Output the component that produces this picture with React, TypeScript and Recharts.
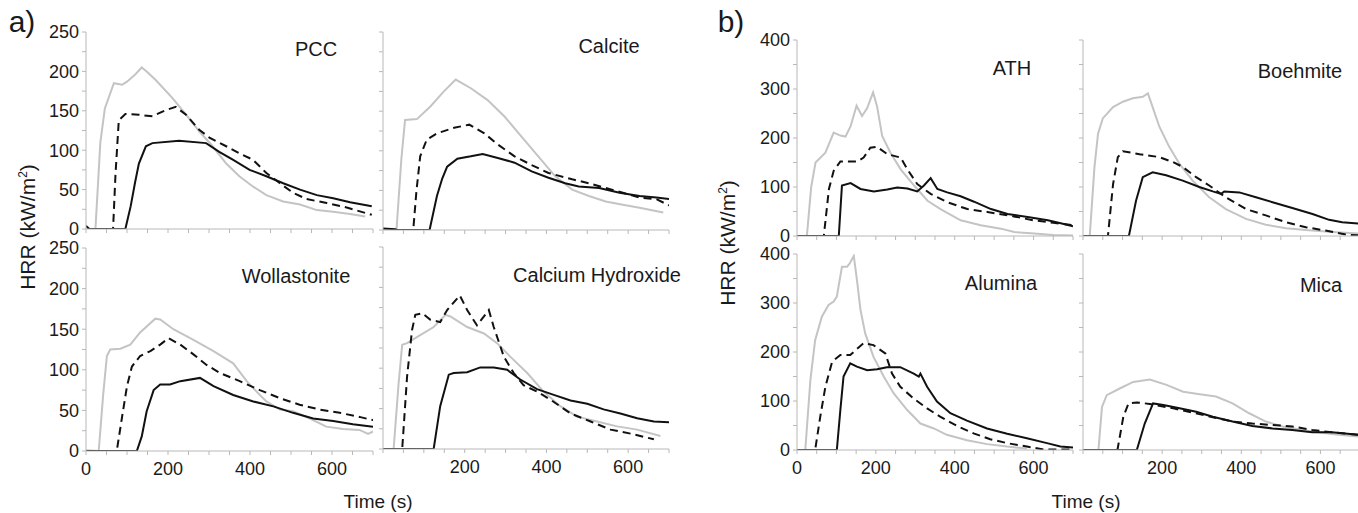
import { LineChart, Line, XAxis, YAxis } from "recharts";

// time axis (s)
const timeTicks = [0, 50, 100, 150, 200, 250, 300, 350, 400, 450, 500, 550, 600, 650, 700];
const timeLabelsLeft = [0, 200, 400, 600];
const timeLabelsRight = [200, 400, 600];

// HRR axes (kW/m2)
const hrrTicksA = [0, 25, 50, 75, 100, 125, 150, 175, 200, 225, 250];
const hrrLabelsA = [0, 50, 100, 150, 200, 250];
const hrrTicksB = [0, 50, 100, 150, 200, 250, 300, 350, 400];
const hrrLabelsB = [0, 100, 200, 300, 400];

// [time, HRR]
const pccGrey = [[0, 4], [8, 0], [23, 0], [35, 110], [46, 153], [68, 185], [88, 183], [100, 187], [118, 195], [136, 205], [150, 199], [170, 189], [211, 166], [244, 145], [276, 124], [309, 105], [342, 83], [374, 67], [407, 54], [440, 43], [481, 35], [522, 31], [563, 24], [603, 22], [644, 19], [681, 16]];
const pccDash = [[20, 0], [66, 0], [72, 70], [80, 138], [96, 146], [129, 145], [162, 143], [195, 151], [219, 155], [244, 145], [276, 126], [301, 116], [342, 105], [374, 96], [407, 88], [440, 71], [473, 58], [505, 46], [538, 38], [587, 33], [638, 27], [697, 18]];
const pccSolid = [[0, 4], [8, 0], [96, 0], [109, 29], [120, 60], [129, 83], [146, 105], [162, 109], [227, 112], [293, 109], [325, 98], [358, 88], [399, 75], [440, 67], [481, 58], [522, 50], [563, 43], [603, 39], [644, 34], [697, 29]];

const calciteGrey = [[0, 0], [33, 0], [45, 90], [54, 139], [83, 140], [116, 156], [149, 175], [178, 190], [215, 179], [256, 164], [298, 143], [339, 118], [380, 93], [421, 68], [463, 51], [504, 43], [545, 36], [587, 32], [628, 28], [686, 22]];
const calciteDash = [[20, 0], [74, 0], [82, 50], [91, 93], [107, 114], [132, 122], [174, 129], [211, 133], [248, 122], [281, 108], [322, 93], [364, 82], [405, 72], [463, 64], [504, 59], [545, 53], [587, 47], [628, 41], [669, 39], [700, 31]];
const calciteSolid = [[0, 2], [30, 1], [34, 0], [114, 0], [132, 43], [145, 65], [157, 80], [182, 90], [215, 93], [244, 96], [281, 91], [322, 85], [364, 74], [405, 66], [446, 59], [479, 55], [529, 53], [579, 47], [628, 43], [669, 41], [700, 39]];

const wollGrey = [[0, 1], [31, 0], [42, 70], [51, 117], [59, 125], [84, 126], [108, 131], [132, 146], [169, 163], [181, 162], [213, 150], [262, 137], [311, 123], [359, 108], [392, 86], [424, 69], [440, 61], [473, 51], [505, 49], [546, 40], [586, 30], [627, 27], [667, 26], [688, 21], [700, 24]];
const wollDash = [[20, 0], [75, 0], [88, 42], [100, 80], [112, 104], [132, 117], [157, 123], [181, 131], [201, 139], [230, 131], [262, 119], [294, 106], [327, 96], [375, 86], [424, 75], [473, 65], [521, 57], [570, 51], [619, 47], [667, 42], [700, 38]];
const wollSolid = [[0, 0], [124, 0], [136, 18], [148, 49], [165, 75], [181, 82], [205, 82], [230, 86], [278, 90], [311, 80], [359, 69], [408, 61], [457, 55], [505, 47], [554, 40], [603, 37], [651, 33], [700, 30]];

const caohGrey = [[0, 0], [26, 0], [38, 80], [47, 129], [59, 131], [91, 141], [124, 151], [153, 166], [165, 164], [206, 151], [247, 143], [279, 131], [312, 114], [353, 94], [393, 71], [434, 53], [475, 40], [524, 34], [573, 28], [622, 24], [679, 16]];
const caohDash = [[20, 0], [47, 0], [59, 90], [71, 147], [79, 166], [96, 168], [116, 160], [140, 157], [157, 172], [188, 190], [206, 172], [230, 153], [259, 172], [271, 151], [296, 114], [320, 94], [344, 79], [377, 71], [410, 61], [459, 44], [508, 34], [557, 24], [606, 19], [663, 12]];
const caohSolid = [[0, 0], [124, 0], [140, 53], [161, 92], [173, 94], [206, 95], [238, 101], [271, 101], [304, 98], [336, 86], [377, 74], [418, 67], [459, 60], [500, 56], [540, 49], [581, 44], [622, 38], [663, 34], [700, 33]];

const athGrey = [[0, 0], [25, 0], [36, 100], [47, 150], [72, 170], [93, 211], [110, 205], [123, 203], [136, 224], [151, 266], [165, 245], [178, 261], [193, 293], [203, 265], [216, 204], [237, 170], [263, 136], [297, 103], [331, 72], [364, 55], [415, 32], [466, 22], [517, 15], [551, 8], [602, 5], [650, 2], [700, 1]];
const athDash = [[20, 0], [68, 0], [81, 96], [93, 133], [110, 152], [153, 152], [169, 160], [186, 180], [203, 182], [229, 167], [263, 160], [280, 136], [305, 106], [339, 86], [381, 69], [432, 55], [483, 49], [550, 40], [600, 32], [650, 27], [700, 22]];
const athSolid = [[0, 0], [106, 0], [114, 103], [136, 108], [161, 96], [195, 91], [229, 95], [254, 99], [280, 97], [305, 91], [322, 103], [339, 118], [356, 96], [381, 89], [415, 81], [449, 70], [492, 55], [534, 45], [585, 39], [636, 32], [669, 26], [700, 20]];

const boehGrey = [[0, 0], [17, 0], [29, 141], [38, 209], [50, 240], [76, 263], [101, 274], [126, 281], [151, 284], [164, 291], [176, 263], [193, 223], [218, 182], [244, 147], [277, 113], [319, 79], [361, 55], [412, 35], [462, 23], [513, 16], [563, 12], [630, 8], [700, 5]];
const boehDash = [[20, 0], [63, 0], [76, 106], [88, 161], [101, 173], [143, 167], [193, 161], [227, 151], [252, 141], [286, 120], [319, 103], [361, 79], [412, 55], [462, 42], [513, 28], [563, 18], [613, 11], [664, 3], [700, 1]];
const boehSolid = [[0, 0], [116, 0], [134, 72], [151, 120], [176, 130], [210, 124], [252, 113], [294, 100], [328, 91], [349, 86], [357, 91], [395, 89], [437, 79], [479, 69], [529, 57], [580, 45], [622, 33], [655, 28], [700, 25]];

const aluGrey = [[0, 0], [21, 0], [34, 143], [46, 224], [63, 272], [80, 296], [93, 303], [101, 313], [114, 374], [127, 374], [134, 381], [144, 396], [152, 347], [161, 286], [173, 238], [194, 190], [220, 150], [245, 116], [279, 82], [313, 54], [347, 44], [380, 31], [431, 20], [482, 12], [533, 7], [583, 3]];
const aluDash = [[20, 0], [46, 0], [59, 68], [72, 129], [89, 180], [110, 194], [135, 194], [169, 218], [194, 214], [224, 197], [241, 156], [262, 129], [296, 105], [330, 85], [363, 68], [406, 49], [448, 34], [490, 22], [533, 14], [583, 7], [626, 1], [700, 1]];
const aluSolid = [[0, 0], [101, 0], [110, 82], [118, 150], [135, 177], [152, 170], [178, 163], [203, 165], [228, 169], [262, 169], [296, 156], [309, 150], [313, 156], [330, 129], [355, 99], [389, 75], [431, 60], [482, 44], [533, 33], [583, 24], [634, 14], [668, 7], [700, 5]];

const micaGrey = [[0, 0], [39, 0], [48, 88], [60, 112], [94, 126], [127, 139], [169, 144], [211, 133], [253, 119], [295, 114], [336, 109], [378, 95], [420, 75], [462, 58], [504, 48], [554, 41], [604, 35], [646, 31], [700, 27]];
const micaDash = [[20, 0], [87, 0], [102, 68], [115, 95], [136, 97], [169, 94], [228, 85], [278, 76], [328, 67], [378, 58], [428, 54], [479, 51], [529, 48], [579, 41], [629, 36], [700, 31]];
const micaSolid = [[0, 0], [136, 0], [156, 54], [177, 95], [203, 92], [244, 85], [286, 78], [328, 68], [378, 58], [428, 49], [479, 44], [529, 41], [579, 36], [629, 36], [700, 31]];

const FONT = '"Liberation Sans", Arial, sans-serif';
const AXIS = "#b8b8b8";
const TEXT = "#1a1a1a";

const toPts = (a: number[][]) => a.map(([t, v]) => ({ t, v }));

type PanelSpec = {
  title: string;
  x0: number; x1: number; y0: number; y1: number;
  tx: number; ty: number;
  yMax: number; yTicks: number[]; yLabels: number[];
  xLabels: number[];
  grey: number[][]; dash: number[][]; solid: number[][];
};

const panels: PanelSpec[] = [
  { title: "PCC", x0: 86, x1: 373, y0: 32, y1: 229, tx: 316, ty: 49, yMax: 250, yTicks: hrrTicksA, yLabels: hrrLabelsA, xLabels: [], grey: pccGrey, dash: pccDash, solid: pccSolid },
  { title: "Calcite", x0: 383, x1: 669, y0: 32, y1: 230, tx: 609, ty: 46, yMax: 250, yTicks: hrrTicksA, yLabels: [], xLabels: [], grey: calciteGrey, dash: calciteDash, solid: calciteSolid },
  { title: "Wollastonite", x0: 86, x1: 373, y0: 248, y1: 451, tx: 296, ty: 276, yMax: 250, yTicks: hrrTicksA, yLabels: hrrLabelsA, xLabels: timeLabelsLeft, grey: wollGrey, dash: wollDash, solid: wollSolid },
  { title: "Calcium Hydroxide", x0: 383, x1: 669, y0: 247, y1: 449, tx: 597, ty: 275, yMax: 250, yTicks: hrrTicksA, yLabels: [], xLabels: timeLabelsRight, grey: caohGrey, dash: caohDash, solid: caohSolid },
  { title: "ATH", x0: 797, x1: 1073, y0: 40, y1: 236, tx: 1012, ty: 68, yMax: 400, yTicks: hrrTicksB, yLabels: hrrLabelsB, xLabels: [], grey: athGrey, dash: athDash, solid: athSolid },
  { title: "Boehmite", x0: 1083, x1: 1360, y0: 40, y1: 236, tx: 1300, ty: 71, yMax: 400, yTicks: hrrTicksB, yLabels: [], xLabels: [], grey: boehGrey, dash: boehDash, solid: boehSolid },
  { title: "Alumina", x0: 797, x1: 1073, y0: 254, y1: 450, tx: 1001, ty: 283, yMax: 400, yTicks: hrrTicksB, yLabels: hrrLabelsB, xLabels: timeLabelsLeft, grey: aluGrey, dash: aluDash, solid: aluSolid },
  { title: "Mica", x0: 1083, x1: 1360, y0: 254, y1: 450, tx: 1321, ty: 285, yMax: 400, yTicks: hrrTicksB, yLabels: [], xLabels: timeLabelsRight, grey: micaGrey, dash: micaDash, solid: micaSolid },
];

function Panel({ p }: { p: PanelSpec }) {
  const padL = 60, padT = 12, padR = 12, padB = 40;
  const w = p.x1 - p.x0;
  const h = p.y1 - p.y0;
  const tick = { fill: TEXT, fontSize: 18, fontFamily: FONT };
  return (
    <div style={{ position: "absolute", left: p.x0 - padL, top: p.y0 - padT }}>
      <LineChart
        width={w + padL + padR}
        height={h + padT + padB}
        margin={{ top: padT, right: padR, bottom: 0, left: 0 }}
      >
        <XAxis
          type="number"
          dataKey="t"
          domain={[0, 700]}
          ticks={timeTicks}
          interval={0}
          height={padB}
          tickSize={4}
          tickMargin={7}
          stroke={AXIS}
          tick={tick}
          allowDataOverflow
          tickFormatter={(v: number) => (p.xLabels.includes(v) ? String(v) : "")}
        />
        <YAxis
          type="number"
          domain={[0, p.yMax]}
          ticks={p.yTicks}
          interval={0}
          width={padL}
          tickSize={4}
          tickMargin={3}
          stroke={AXIS}
          tick={tick}
          allowDataOverflow
          tickFormatter={(v: number) => (p.yLabels.includes(v) ? String(v) : "")}
        />
        <Line data={toPts(p.grey)} dataKey="v" type="linear" stroke="#c4c4c4" strokeWidth={2} dot={false} isAnimationActive={false} />
        <Line data={toPts(p.dash)} dataKey="v" type="linear" stroke="#111" strokeWidth={2} strokeDasharray="8 5" dot={false} isAnimationActive={false} />
        <Line data={toPts(p.solid)} dataKey="v" type="linear" stroke="#111" strokeWidth={2} dot={false} isAnimationActive={false} />
      </LineChart>
    </div>
  );
}

const abs = (x: number, y: number, extra: React.CSSProperties = {}): React.CSSProperties => ({
  position: "absolute",
  left: x,
  top: y,
  transform: "translate(-50%, -50%)",
  whiteSpace: "nowrap",
  color: TEXT,
  fontFamily: FONT,
  ...extra,
});

export default function App() {
  return (
    <div
      style={{
        position: "absolute",
        left: 0,
        top: 0,
        width: 1358,
        height: 513,
        overflow: "hidden",
        background: "#fff",
        fontFamily: FONT,
      }}
    >
      {panels.map((p) => (
        <Panel key={p.title} p={p} />
      ))}
      {panels.map((p) => (
        <div key={"t" + p.title} style={abs(p.tx, p.ty, { fontSize: 20 })}>
          {p.title}
        </div>
      ))}
      <div style={abs(22, 22, { fontSize: 30 })}>a)</div>
      <div style={abs(731, 22, { fontSize: 30 })}>b)</div>
      <div style={abs(28, 227, { fontSize: 21, transform: "translate(-50%, -50%) rotate(-90deg)" })}>
        HRR (kW/m<sup style={{ fontSize: 12 }}>2</sup>)
      </div>
      <div style={abs(728, 243, { fontSize: 21, transform: "translate(-50%, -50%) rotate(-90deg)" })}>
        HRR (kW/m<sup style={{ fontSize: 12 }}>2</sup>)
      </div>
      <div style={abs(378, 502, { fontSize: 19 })}>Time (s)</div>
      <div style={abs(1086, 502, { fontSize: 19 })}>Time (s)</div>
    </div>
  );
}
